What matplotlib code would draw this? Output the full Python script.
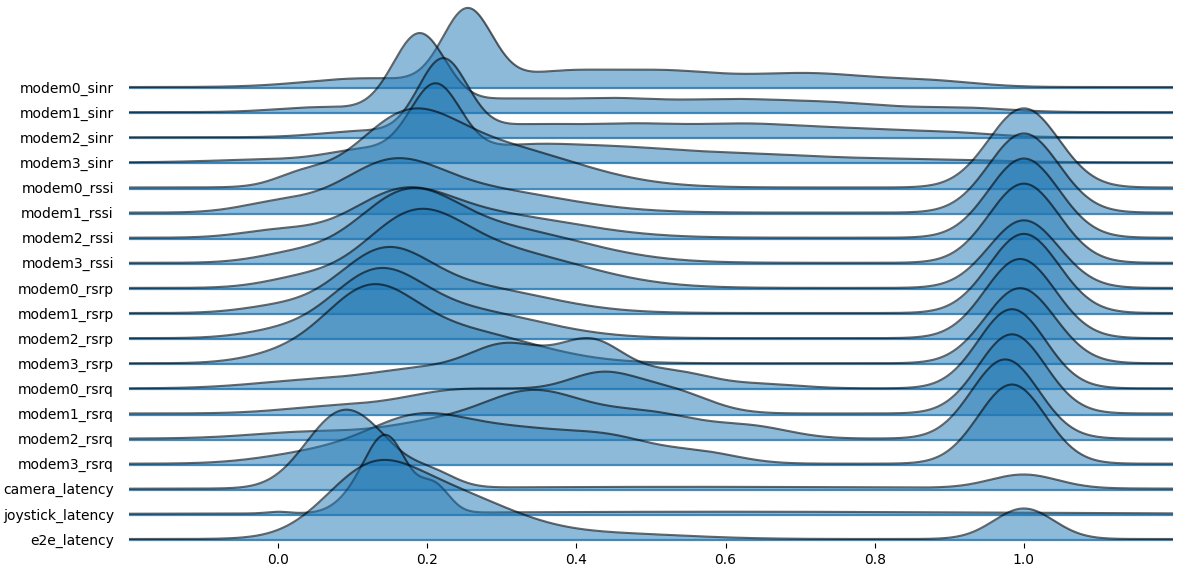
import numpy as np
import matplotlib
matplotlib.use("Agg")
import matplotlib.pyplot as plt

# row labels, top to bottom
labels = ["modem0_sinr", "modem1_sinr", "modem2_sinr", "modem3_sinr",
          "modem0_rssi", "modem1_rssi", "modem2_rssi", "modem3_rssi",
          "modem0_rsrp", "modem1_rsrp", "modem2_rsrp", "modem3_rsrp",
          "modem0_rsrq", "modem1_rsrq", "modem2_rsrq", "modem3_rsrq",
          "camera_latency", "joystick_latency", "e2e_latency"]

# density of each metric as (center, width, weight) bumps
modem0_sinr = [(0.254, 0.033, 76), (0.12, 0.08, 9), (0.38, 0.07, 15), (0.52, 0.07, 14),
               (0.71, 0.09, 14), (0.88, 0.06, 5)]
modem1_sinr = [(0.189, 0.035, 75), (0.06, 0.06, 5), (0.30, 0.07, 12), (0.45, 0.07, 12),
               (0.60, 0.07, 10), (0.74, 0.08, 9), (0.92, 0.06, 4)]
modem2_sinr = [(0.221, 0.033, 70), (0.12, 0.06, 6), (0.33, 0.07, 11), (0.48, 0.07, 11),
               (0.63, 0.07, 11), (0.77, 0.07, 7), (0.90, 0.06, 4)]
modem3_sinr = [(0.211, 0.034, 72), (0.12, 0.05, 12), (0.0, 0.08, 3), (0.32, 0.07, 14),
               (0.45, 0.08, 12), (0.62, 0.10, 8), (0.85, 0.10, 3)]
modem0_rssi = [(0.17, 0.065, 55), (0.29, 0.11, 40), (0.03, 0.035, 10), (1.0, 0.047, 79)]
modem1_rssi = [(0.15, 0.065, 40), (0.27, 0.11, 22), (0.0, 0.05, 9), (1.0, 0.047, 77)]
modem2_rssi = [(0.165, 0.065, 38), (0.29, 0.11, 22), (0.0, 0.05, 7), (1.0, 0.047, 79)]
modem3_rssi = [(0.17, 0.065, 57), (0.30, 0.11, 33), (0.02, 0.05, 8), (1.0, 0.047, 79)]
modem0_rsrp = [(0.18, 0.065, 56), (0.30, 0.11, 34), (0.03, 0.05, 8), (1.0, 0.047, 65)]
modem1_rsrp = [(0.14, 0.06, 53), (0.26, 0.10, 25), (0.0, 0.05, 6), (1.0, 0.047, 79)]
modem2_rsrp = [(0.13, 0.06, 56), (0.25, 0.10, 27), (0.0, 0.05, 6), (0.995, 0.047, 79)]
modem3_rsrp = [(0.12, 0.06, 58), (0.24, 0.10, 30), (0.0, 0.05, 6), (0.995, 0.047, 70)]
modem0_rsrq = [(0.05, 0.08, 8), (0.20, 0.07, 18), (0.31, 0.05, 38), (0.42, 0.045, 45),
               (0.53, 0.05, 16), (0.65, 0.05, 4), (0.984, 0.045, 79)]
modem1_rsrq = [(0.08, 0.07, 7), (0.24, 0.07, 22), (0.34, 0.05, 12), (0.435, 0.05, 36),
               (0.53, 0.05, 20), (0.984, 0.045, 79)]
modem2_rsrq = [(0.05, 0.08, 7), (0.20, 0.06, 12), (0.34, 0.07, 46), (0.50, 0.07, 24),
               (0.64, 0.05, 10), (0.975, 0.045, 79)]
modem3_rsrq = [(0.05, 0.07, 10), (0.19, 0.07, 45), (0.33, 0.07, 28), (0.45, 0.06, 22),
               (0.57, 0.05, 10), (0.984, 0.045, 79)]
camera_latency = [(0.075, 0.045, 60), (0.13, 0.045, 35), (0.21, 0.03, 12), (0.55, 0.30, 2),
                  (1.0, 0.045, 14)]
joystick_latency = [(0.145, 0.028, 70), (0.10, 0.025, 10), (0.21, 0.02, 24), (0.0, 0.015, 1.5),
                    (0.60, 0.35, 2)]
e2e_latency = [(0.12, 0.06, 50), (0.22, 0.09, 45), (0.45, 0.10, 5), (1.0, 0.04, 30)]

metrics = [modem0_sinr, modem1_sinr, modem2_sinr, modem3_sinr,
           modem0_rssi, modem1_rssi, modem2_rssi, modem3_rssi,
           modem0_rsrp, modem1_rsrp, modem2_rsrp, modem3_rsrp,
           modem0_rsrq, modem1_rsrq, modem2_rsrq, modem3_rsrq,
           camera_latency, joystick_latency, e2e_latency]


def density(x, bumps):
    y = np.zeros_like(x)
    for c, w, a in bumps:
        y += a * np.exp(-0.5 * ((x - c) / w) ** 2)
    # each ridge scaled to its own max (like joypy ylim='own')
    return y / y.max()


x = np.linspace(-0.2, 1.2, 600)
peak = 3.15  # height of a ridge in row spacings

fig = plt.figure(figsize=(11.81, 5.76), dpi=100)
ax = fig.add_axes([0.1091, 0.0573, 0.8842, 0.9427])

for i, bumps in enumerate(metrics):
    base = -i
    y = base + peak * density(x, bumps)
    z = 2 * i + 1
    ax.axhline(base - 0.045, color="#1f77b4", lw=1.6, alpha=0.85, zorder=z)
    ax.fill_between(x, base, y, color="#1f77b4", alpha=0.5, lw=0, zorder=z)
    ax.plot(x, y, color="black", alpha=0.6, lw=1.5, zorder=z + 1)

ax.set_xlim(-0.2, 1.2)
ax.set_ylim(-18.16, 3.465)
ax.set_xticks([0.0, 0.2, 0.4, 0.6, 0.8, 1.0])
ax.set_yticks([-i for i in range(len(labels))])
ax.set_yticklabels(labels)
ax.tick_params(axis="y", length=0, pad=10.8)
for s in ax.spines.values():
    s.set_visible(False)

fig.savefig("out.png", dpi=100)
